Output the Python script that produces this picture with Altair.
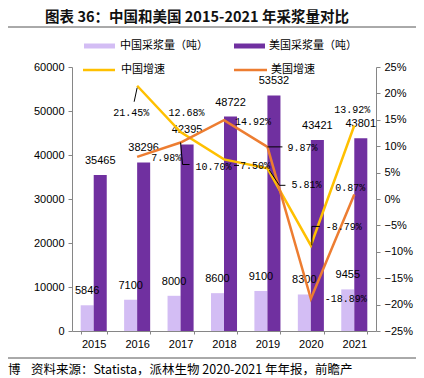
import altair as alt
import pandas as pd

# ---------------- data ----------------
years = ["2015", "2016", "2017", "2018", "2019", "2020", "2021"]
china_volume = [5846, 7100, 8000, 8600, 9100, 8300, 9455]
us_volume = [35465, 38296, 42395, 48722, 53532, 43421, 43801]
growth_years = ["2016", "2017", "2018", "2019", "2020", "2021"]
china_growth = [21.45, 12.68, 7.50, 5.81, -8.79, 13.92]
us_growth = [7.98, 10.70, 14.92, 9.87, -18.89, 0.87]
left_ticks = [0, 10000, 20000, 30000, 40000, 50000, 60000]
right_ticks = [-0.25, -0.20, -0.15, -0.10, -0.05, 0, 0.05, 0.10, 0.15, 0.20, 0.25]

S_CN = "中国采浆量（吨）"
S_US = "美国采浆量（吨）"
G_CN = "中国增速"
G_US = "美国增速"
TITLE = "图表 36：中国和美国 2015-2021 年采浆量对比"
FOOT = "资料来源：Statista，派林生物 2020-2021 年年报，前瞻产"

# ---------------- styles ----------------
C_LIGHT = "#d3bdf4"
C_DARK = "#7030a0"
C_YEL = "#ffc000"
C_ORG = "#ed7d31"
C_AX = "#868686"
CJK = "Noto Sans CJK SC"
NUM = "Liberation Sans"
MONO = "Liberation Mono"
W, H = 304, 264

# per-label offsets (pixels) for growth labels: (series, year, dx, dy)
label_offsets = [
    (G_CN, "2016", -6, 27), (G_CN, "2017", 6, -19), (G_CN, "2018", 31, 7),
    (G_CN, "2019", 39, 17), (G_CN, "2020", 33, -18), (G_CN, "2021", -2, -16),
    (G_US, "2016", 29, 1), (G_US, "2017", 33, 24), (G_US, "2018", 29, 2),
    (G_US, "2019", 35, 1), (G_US, "2020", 35, 0), (G_US, "2021", -4, -6),
]
# leader segments: (series, year, x0, y0, x1, y1) offsets from the point
leaders = [
    (G_CN, "2016", 0, 2, -3, 16),
    (G_US, "2017", 0, 0, 2, 22), (G_US, "2017", 2, 22, 9, 22),
    (G_CN, "2018", 10, 6, 15, 6),
    (G_US, "2019", 0, 0, 15, 0),
    (G_CN, "2019", 2, 2, 12, 17), (G_CN, "2019", 12, 17, 18, 17),
    (G_CN, "2020", 1, 0, 1, -19), (G_CN, "2020", 1, -19, 9, -19),
]

bars_df = pd.DataFrame({
    "year": years * 2,
    "series": [S_CN] * len(years) + [S_US] * len(years),
    "value": china_volume + us_volume,
})
growth_df = pd.DataFrame({
    "year": growth_years * 2,
    "series": [G_CN] * len(growth_years) + [G_US] * len(growth_years),
    "g": [v / 100 for v in china_growth + us_growth],
    "label": [f"{v:.2f}%" for v in china_growth + us_growth],
})

x_scale = alt.Scale(domain=years, paddingInner=0.4, paddingOuter=0.2)
x_axis = alt.Axis(title=None, labelAngle=0, ticks=True, tickBand="extent", tickSize=3,
                  tickColor=C_AX, domainColor=C_AX,
                  labelFont=NUM, labelFontSize=11, labelColor="#000", labelPadding=4)
x_enc = alt.X("year:N", scale=x_scale, axis=x_axis)
x_mid = alt.X("year:N", scale=x_scale, axis=x_axis, bandPosition=0.5)
xoff = alt.XOffset("series:N", scale=alt.Scale(domain=[S_CN, S_US], paddingInner=0))

y1_scale = alt.Scale(domain=[0, 60000], nice=False)
y2_scale = alt.Scale(domain=[-0.25, 0.25], nice=False)
y1_axis = alt.Axis(title=None, orient="left", values=left_ticks, format="d", grid=False,
                   tickSize=4, tickColor=C_AX, domainColor=C_AX, labelFont=NUM,
                   labelFontSize=11, labelColor="#000", labelPadding=4)
y2_axis = alt.Axis(title=None, orient="right", values=right_ticks, format=".0%", grid=False,
                   tickSize=4, tickColor=C_AX, domainColor=C_AX, labelFont=NUM,
                   labelFontSize=11, labelColor="#000", labelPadding=4)
y1 = alt.Y("value:Q", scale=y1_scale, axis=y1_axis)
y2 = alt.Y("g:Q", scale=y2_scale, axis=y2_axis)

bars = alt.Chart(bars_df).mark_bar().encode(
    x=x_enc,
    xOffset=xoff,
    y=y1,
    color=alt.Color("series:N", scale=alt.Scale(domain=[S_CN, S_US], range=[C_LIGHT, C_DARK]), legend=None),
)
bar_text = alt.Chart(bars_df).mark_text(dy=-14, baseline="middle", font=NUM, fontSize=11, color="#000").encode(
    x=x_enc, xOffset=xoff, y=y1,
    text=alt.Text("value:Q", format="d"),
)
left = alt.layer(bars, bar_text)

lines = alt.Chart(growth_df).mark_line(strokeWidth=2.5).encode(
    x=x_mid,
    y=y2,
    color=alt.Color("series:N", scale=alt.Scale(domain=[G_CN, G_US], range=[C_YEL, C_ORG]), legend=None),
)

right_layers = [lines]
for s, yr, x0, y0, x1, y1_ in leaders:
    right_layers.append(
        alt.Chart(growth_df).transform_filter((alt.datum.series == s) & (alt.datum.year == yr))
        .mark_rule(color="#000", strokeWidth=1, xOffset=x0, yOffset=y0, x2Offset=x1, y2Offset=y1_)
        .encode(x=x_mid, x2=alt.X2("year:N", bandPosition=0.5), y=y2, y2="g:Q")
    )
for s, yr, dx, dy in label_offsets:
    right_layers.append(
        alt.Chart(growth_df).transform_filter((alt.datum.series == s) & (alt.datum.year == yr))
        .mark_text(dx=dx, dy=dy, baseline="middle", font=MONO, fontSize=10, color="#000")
        .encode(x=x_mid, y=y2, text="label:N")
    )
right = alt.layer(*right_layers)

# ---------------- annotations (title, legend, footer) ----------------
dummy = pd.DataFrame({"a": [0]})


def txt(s, x, y, size, font=CJK, align="left", weight="normal", color="#000"):
    return alt.Chart(dummy).mark_text(align=align, baseline="middle", font=font, fontSize=size,
                                      fontWeight=weight, color=color).encode(
        x=alt.value(x), y=alt.value(y), text=alt.value(s))


def hline(x0, x1, y, color, width):
    return alt.Chart(dummy).mark_rule(color=color, strokeWidth=width, strokeCap="butt").encode(
        x=alt.value(x0), x2=alt.value(x1), y=alt.value(y))


ann = [
    txt(TITLE, 125, -49, 14.5, weight="bold", align="center", color="#111"),
    hline(-64, 344, -40, "#555", 1),
    hline(12, 43, -21, C_LIGHT, 5), txt(S_CN, 48, -21, 11),
    hline(162, 193, -21, C_DARK, 5), txt(S_US, 197, -21, 11),
    hline(11, 43, 3, C_YEL, 2.5), txt(G_CN, 49, 3, 11),
    hline(162, 195, 3, C_ORG, 2.5), txt(G_US, 199, 3, 11),
    hline(-64, 344, 291, "#555", 1),
    txt("博", -64, 303, 12.5),
    txt(FOOT, -41, 303, 12.5),
]

chart = alt.layer(left, right, *ann).resolve_scale(y="independent", color="independent").properties(
    width=W, height=H,
    padding={"left": 64, "top": 59, "right": 40, "bottom": 46},
    autosize=alt.AutoSizeParams(type="none"),
).configure_view(stroke=None)

chart.save("out.html", embed_options={"renderer": "svg", "actions": False})
